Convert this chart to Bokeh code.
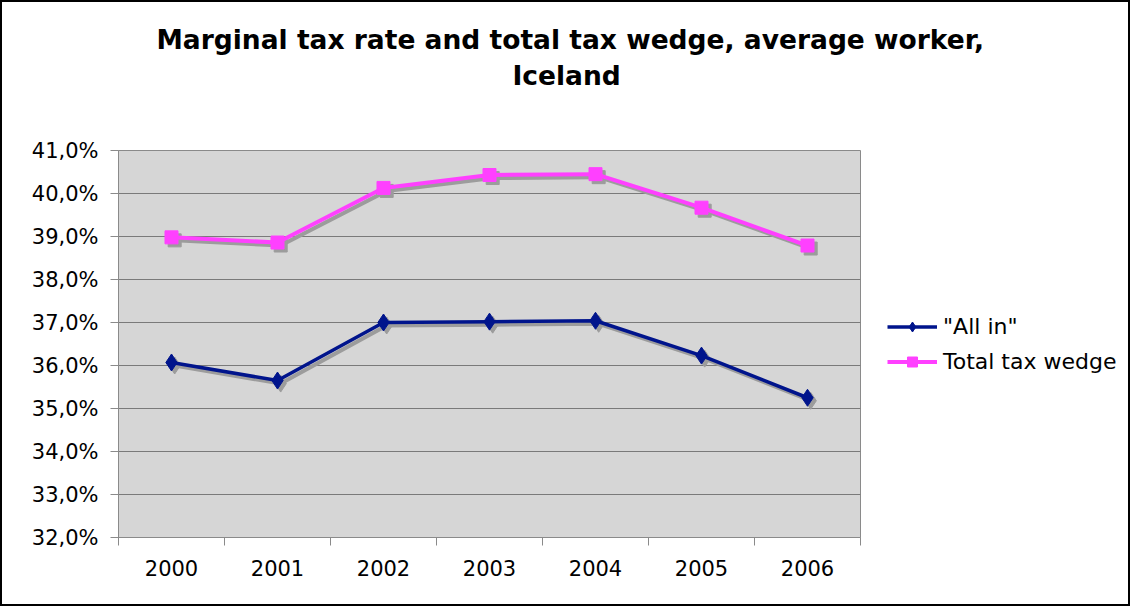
from bokeh.plotting import figure
from bokeh.layouts import column, row
from bokeh.models import (FixedTicker, CustomJSTickFormatter, Legend, LegendItem,
                          Range1d, ColumnDataSource, Title)
from bokeh.transform import dodge
from bokeh.embed import file_html
from bokeh.resources import INLINE

# ---- data ----
years = [2000, 2001, 2002, 2003, 2004, 2005, 2006]
all_in = [36.07, 35.65, 37.00, 37.02, 37.04, 36.23, 35.25]
total_wedge = [38.98, 38.86, 40.13, 40.43, 40.45, 39.67, 38.79]
y_ticks = [32, 33, 34, 35, 36, 37, 38, 39, 40, 41]
title_line1 = "Marginal tax rate and total tax wedge, average worker,"
title_line2 = "Iceland"
series_names = ['"All in"', "Total tax wedge"]

src = ColumnDataSource(dict(year=years, all_in=all_in, total=total_wedge))

NAVY = "#00148c"
MAGENTA = "#ff40ff"
SHADOW = "#9c9c9c"
FONT = "DejaVu Sans"

# ---------- title strip ----------
pt = figure(width=1126, height=128, output_backend="svg", toolbar_location=None,
            x_axis_location=None, y_axis_location=None,
            x_range=Range1d(0, 1), y_range=Range1d(0, 1),
            min_border_left=116, min_border_right=268,
            min_border_top=118, min_border_bottom=0,
            outline_line_color=None, background_fill_color="white",
            border_fill_color="white")
pt.grid.visible = False
spacer = Title(text=" ", text_font_size="1px", standoff=26)
t2 = Title(text=title_line2, align="left", offset=394, standoff=2,
           text_font=FONT, text_font_style="bold", text_font_size="26.5px",
           text_color="black")
pt.add_layout(spacer, "above")
pt.add_layout(t2, "above")
pt.title.text = title_line1
pt.title.align = "left"
pt.title.offset = 38
pt.title.standoff = 4
pt.title.text_font = FONT
pt.title.text_font_style = "bold"
pt.title.text_font_size = "26.5px"
pt.title.text_color = "black"

# ---------- main chart ----------
p = figure(width=859, height=474, output_backend="svg", toolbar_location=None,
           x_range=Range1d(years[0] - 0.5, years[-1] + 0.5),
           y_range=Range1d(y_ticks[0], y_ticks[-1]),
           min_border_left=116, min_border_right=1,
           min_border_top=20, min_border_bottom=67,
           background_fill_color="#d6d6d6", border_fill_color="white",
           outline_line_color="#8a8a8a", outline_line_width=1)

xt = FixedTicker(ticks=years, minor_ticks=[y - 0.5 for y in years] + [years[-1] + 0.5])
p.xaxis.ticker = xt
p.xaxis.major_tick_out = 0
p.xaxis.major_tick_in = 0
p.xaxis.minor_tick_out = 8
p.xaxis.minor_tick_in = 0
p.xaxis.minor_tick_line_color = "#8a8a8a"
p.xaxis.axis_line_color = "#8a8a8a"
p.xaxis.major_label_text_font = FONT
p.xaxis.major_label_text_font_size = "21px"
p.xaxis.major_label_text_color = "black"
p.xaxis.major_label_standoff = 14

p.yaxis.ticker = FixedTicker(ticks=y_ticks, minor_ticks=[])
p.yaxis.formatter = CustomJSTickFormatter(code="return tick.toFixed(1).replace('.', ',') + '%';")
p.yaxis.major_tick_out = 8
p.yaxis.major_tick_in = 0
p.yaxis.minor_tick_out = 0
p.yaxis.minor_tick_in = 0
p.yaxis.major_tick_line_color = "#8a8a8a"
p.yaxis.axis_line_color = "#8a8a8a"
p.yaxis.major_label_text_font = FONT
p.yaxis.major_label_text_font_size = "21px"
p.yaxis.major_label_text_color = "black"
p.yaxis.major_label_standoff = 12

p.xgrid.grid_line_color = None
p.ygrid.grid_line_color = "#7a7a7a"
p.ygrid.grid_line_width = 1

# shadows
sx = dodge("year", 0.03, range=p.x_range)
for col, marker, size in (("all_in", "diamond", 17), ("total", "square", 13)):
    sy = dodge(col, -0.07, range=p.y_range)
    p.line(x=sx, y=sy, source=src, line_color=SHADOW, line_width=4)
    p.scatter(x=sx, y=sy, source=src, marker=marker, size=size,
              fill_color=SHADOW, line_color=SHADOW)

# series
p.line("year", "all_in", source=src, line_color=NAVY, line_width=3.5)
p.scatter("year", "all_in", source=src, marker="diamond", size=17,
          fill_color=NAVY, line_color=NAVY)
p.line("year", "total", source=src, line_color=MAGENTA, line_width=4)
p.scatter("year", "total", source=src, marker="square", size=13,
          fill_color=MAGENTA, line_color=MAGENTA)

# ---------- legend panel (series kept out of its view; only the key shows) ----------
pl = figure(width=267, height=474, output_backend="svg", toolbar_location=None,
            x_axis_location=None, y_axis_location=None,
            x_range=Range1d(0, 1), y_range=Range1d(0, 1),
            min_border_left=0, min_border_right=0,
            min_border_top=0, min_border_bottom=0,
            outline_line_color=None, background_fill_color="white",
            border_fill_color="white")
pl.grid.visible = False
k1 = pl.line("year", "all_in", source=src, line_color=NAVY, line_width=3.5)
k1m = pl.scatter("year", "all_in", source=src, marker="diamond", size=17,
                 fill_color=NAVY, line_color=NAVY)
k2 = pl.line("year", "total", source=src, line_color=MAGENTA, line_width=4)
k2m = pl.scatter("year", "total", source=src, marker="square", size=13,
                 fill_color=MAGENTA, line_color=MAGENTA)
legend = Legend(items=[LegendItem(label=series_names[0], renderers=[k1, k1m]),
                       LegendItem(label=series_names[1], renderers=[k2, k2m])],
                location=(26, 163), orientation="vertical",
                glyph_width=50, glyph_height=25, label_height=25, spacing=10,
                label_standoff=6, padding=0, margin=0,
                label_text_font=FONT, label_text_font_size="22px",
                label_text_color="black",
                border_line_alpha=0, background_fill_alpha=0)
pl.add_layout(legend, "center")

layout = column(pt, row(p, pl, spacing=0), spacing=0)
layout.styles = {"border": "2px solid black"}

open("out.html", "w").write(file_html(layout, INLINE))
